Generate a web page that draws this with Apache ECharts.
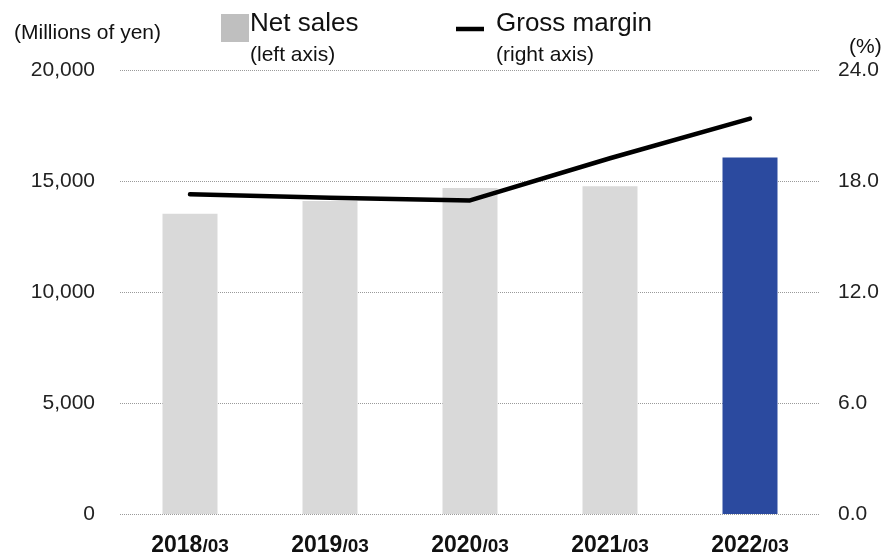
<!DOCTYPE html>
<html>
<head>
<meta charset="utf-8">
<script src="https://cdn.jsdelivr.net/npm/echarts@6/dist/echarts.min.js"></script>
<style>
  html, body { margin: 0; padding: 0; background: #fff; }
  #chart { width: 887px; height: 556px; }
</style>
</head>
<body>
<div id="chart"></div>
<script>
// Fiscal years (year/month of fiscal year end)
const categories = ['2018/03', '2019/03', '2020/03', '2021/03', '2022/03'];
// Net sales, millions of yen (left axis)
const netSales = [13530, 14100, 14680, 14760, 16060];
// Gross margin, % (right axis)
const grossMargin = [17.28, 17.10, 16.95, 19.23, 21.37];

const font = '"Liberation Sans", Arial, sans-serif';
const gridLine = { show: true, lineStyle: { color: '#9a9a9a', type: [1, 1], width: 1 } };

const chart = echarts.init(document.getElementById('chart'), null, { renderer: 'canvas' });

function label(text, x, y, size) {
  return {
    type: 'text', x: x, y: y,
    style: { text: text, fontFamily: font, fontSize: size, fill: '#111', verticalAlign: 'middle', align: 'left' }
  };
}

chart.setOption({
  backgroundColor: '#ffffff',
  animation: false,
  textStyle: { fontFamily: font },
  grid: { left: 120, right: 67, top: 70, bottom: 42, containLabel: false, outerBoundsMode: 'none' },
  xAxis: {
    type: 'category',
    data: categories,
    axisLine: { show: false },
    axisTick: { show: false },
    axisLabel: {
      margin: 20,
      formatter: function (v) {
        const p = v.split('/');
        return '{y|' + p[0] + '}{m|/' + p[1] + '}';
      },
      rich: {
        y: { fontFamily: font, fontWeight: 'bold', fontSize: 23, color: '#111' },
        m: { fontFamily: font, fontWeight: 'bold', fontSize: 19, color: '#111', padding: [3, 0, 0, 0] }
      }
    }
  },
  yAxis: [
    {
      type: 'value', min: 0, max: 20000, interval: 5000,
      axisLine: { show: false }, axisTick: { show: false },
      splitLine: gridLine,
      axisLabel: {
        margin: 25, fontSize: 21, color: '#222', fontFamily: font,
        formatter: function (v) { return v.toLocaleString('en-US'); }
      }
    },
    {
      type: 'value', min: 0, max: 24, interval: 6,
      axisLine: { show: false }, axisTick: { show: false },
      splitLine: { show: false },
      axisLabel: {
        margin: 18, fontSize: 21, color: '#222', fontFamily: font,
        formatter: function (v) { return v.toFixed(1); }
      }
    }
  ],
  series: [
    {
      name: 'Net sales',
      type: 'bar',
      yAxisIndex: 0,
      barWidth: 55,
      data: netSales.map(function (v, i) {
        return {
          value: v,
          itemStyle: { color: i === netSales.length - 1 ? '#2b4a9f' : '#d9d9d9' }
        };
      })
    },
    {
      name: 'Gross margin',
      type: 'line',
      yAxisIndex: 1,
      data: grossMargin,
      symbol: 'none',
      lineStyle: { color: '#000', width: 4.5, cap: 'round', join: 'round' },
      z: 5
    }
  ],
  graphic: [
    label('(Millions of yen)', 14, 33, 21),
    label('(%)', 849, 47, 21),
    // legend: net sales
    { type: 'rect', shape: { x: 221, y: 14, width: 28, height: 28 }, style: { fill: '#bfbfbf' } },
    label('Net sales', 250, 24, 26),
    label('(left axis)', 250, 55, 21),
    // legend: gross margin
    { type: 'line', shape: { x1: 456, y1: 29, x2: 484, y2: 29 }, style: { stroke: '#000', lineWidth: 4.5 } },
    label('Gross margin', 496, 24, 26),
    label('(right axis)', 496, 55, 21)
  ]
});
</script>
</body>
</html>
